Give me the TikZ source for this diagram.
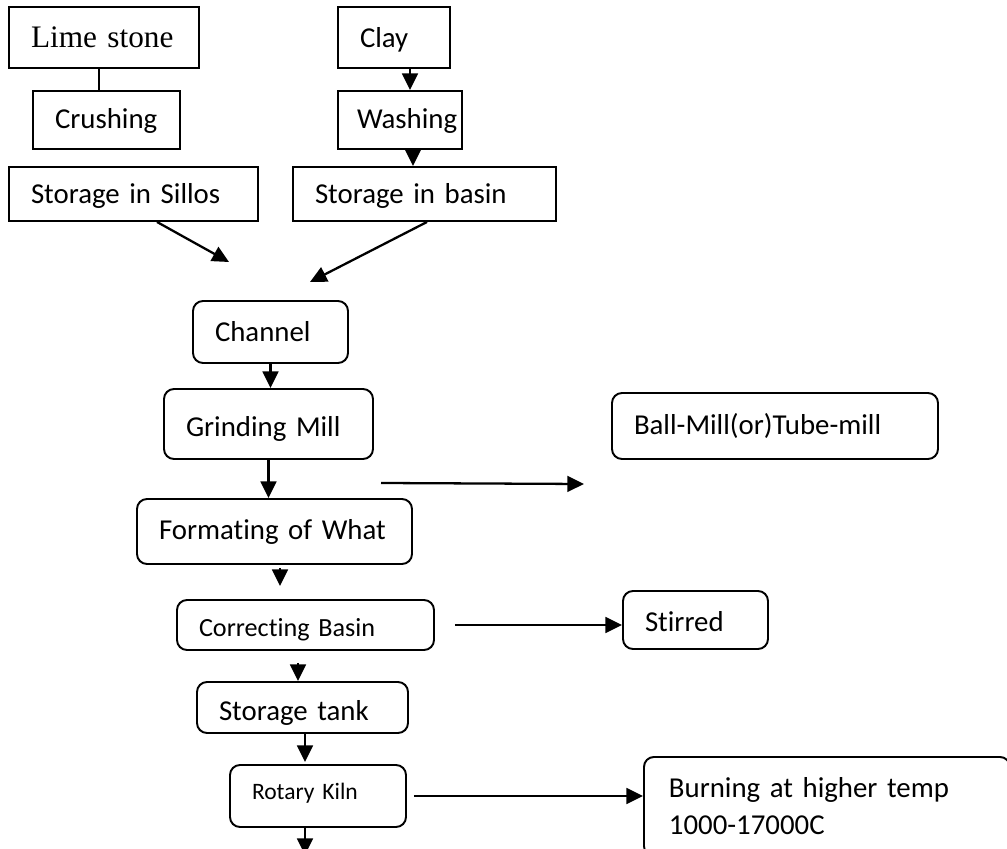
\documentclass[tikz,border=0pt]{standalone}
\usepackage{fontspec}
\setmainfont{Carlito}[Ligatures=NoCommon]
\newfontfamily\limefont{Liberation Serif}
\usetikzlibrary{arrows.meta}
\hyphenpenalty=10000
\exhyphenpenalty=10000

\begin{document}
\begin{tikzpicture}[
	box/.style = {draw, line width=1.1pt, inner xsep=0.44cm, inner ysep=0pt,
		align=left, font=\fontsize{16.4}{20}\selectfont},
	tline/.style = {text height=#1, text depth=0pt},
	tline/.default = 11.3pt,
	rbox/.style = {box, rounded corners=0.2cm}]
	\path[use as bounding box, clip] (0,0) rectangle (20.14,-16.98);
	\begin{scope}
		% raw materials
		\node[box, tline=11.9pt, text width=2.92cm, minimum height=1.22cm,
			font=\limefont\fontsize{17.8}{20}\selectfont] (lime) at (2.08,-0.75) {Lime stone};
		\node[box, tline=10.2pt, text width=2.06cm, minimum height=1.16cm] (crush) at (2.13,-2.40) {Crushing};
		\node[box, tline, text width=4.10cm, minimum height=1.08cm] (sillos) at (2.67,-3.88) {Storage in Sillos};
		\node[box, tline=11.9pt, text width=1.36cm, minimum height=1.22cm] (clay) at (7.88,-0.75) {Clay};
		\node[box, tline=10.2pt, inner xsep=0.38cm, text width=1.72cm, minimum height=1.16cm] (wash) at (8.00,-2.40) {Washing};
		\node[box, tline, text width=4.38cm, minimum height=1.08cm] (basin) at (8.49,-3.88) {Storage in basin};
		% main line
		\node[rbox, tline, text width=2.22cm, minimum height=1.24cm] (channel) at (5.41,-6.64) {Channel};
		\node[rbox, tline=14.7pt, text width=3.30cm, minimum height=1.40cm] (grind) at (5.37,-8.48) {Grinding Mill};
		\node[rbox, tline=9.6pt, text width=4.62cm, minimum height=1.30cm] (format) at (5.49,-10.63) {Formating of What};
		\node[rbox, tline=13.6pt, text width=4.26cm, minimum height=1.00cm,
			font=\fontsize{14.9}{18}\selectfont] (correct) at (6.11,-12.50) {Correcting Basin};
		\node[rbox, tline=15.3pt, text width=3.34cm, minimum height=1.02cm] (tank) at (6.05,-14.15) {Storage tank};
		\node[rbox, tline=4.5pt, text width=2.64cm, minimum height=1.24cm,
			font=\fontsize{13.4}{16}\selectfont] (kiln) at (6.36,-15.92) {Rotary Kiln};
		% side notes
		\node[rbox, tline=10.2pt, text width=5.64cm, minimum height=1.32cm] (ball) at (15.50,-8.52) {Ball-Mill(or)Tube-mill};
		\node[rbox, tline=13.6pt, text width=2.02cm, minimum height=1.16cm] (stirred) at (13.91,-12.40) {Stirred};
		\node[box, rounded corners=0.2cm, anchor=north west, inner xsep=0.5cm, inner ysep=0.42cm,
			text width=6.32cm, font=\fontsize{16.4}{21}\selectfont] (burn) at (12.86,-15.12)
			{Burning at higher temp\\1000-17000C};
	\end{scope}
	\coordinate (joinL) at (4.58,-5.24);
	\coordinate (joinR) at (6.20,-5.64);
	\coordinate (millA) at (7.62,-9.66);
	\coordinate (millB) at (11.68,-9.68);
	\coordinate (out) at (6.10,-17.10);
	\begin{scope}[>={Triangle[length=9.5pt, width=9pt]},
			every edge/.style={draw=black, line width=1.3pt}]
		\path ([xshift=-0.1cm]lime.south) edge ([xshift=-0.1cm]lime.south |- crush.north);
		\path [->] ([xshift=0.32cm]clay.south) edge ([xshift=0.32cm]clay.south |- wash.north);
		\path [->] ([xshift=0.26cm]wash.south) edge ([xshift=0.26cm]wash.south |- basin.north);
		\path [->] ([xshift=0.47cm]sillos.south) edge (joinL);
		\path [->] ([xshift=0.05cm]basin.south) edge (joinR);
		\path [->] (channel.south) edge (channel.south |- grind.north);
		\path [->] (grind.south) edge (grind.south |- format.north);
		\path [->] (millA) edge (millB);
		\path [->] ([xshift=0.11cm]format.south) edge[shorten <=0.06cm, shorten >=0.26cm]
			([xshift=0.11cm]format.south |- correct.north);
		\path [->] (correct.east) edge[shorten <=0.4cm] (correct.east -| stirred.west);
		\path [->] ([xshift=-0.15cm]correct.south) edge[shorten <=0.24cm]
			([xshift=-0.15cm]correct.south |- tank.north);
		\path [->] ([xshift=0.05cm]tank.south) edge[shorten >=0.04cm] ([xshift=0.05cm]tank.south |- kiln.north);
		\path [->] (kiln.east) edge[shorten <=0.14cm] (kiln.east -| burn.west);
		\path [->] ([xshift=-0.26cm]kiln.south) edge (out);
	\end{scope}
\end{tikzpicture}
\end{document}
